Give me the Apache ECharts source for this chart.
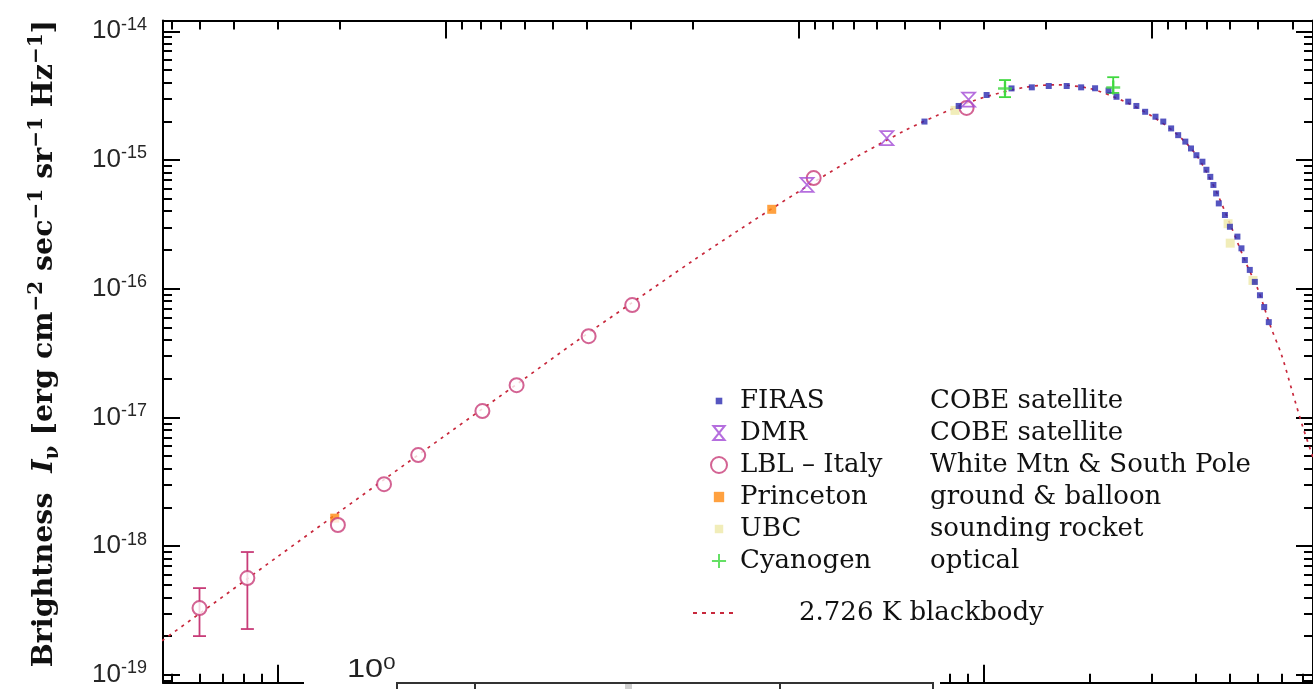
<!DOCTYPE html>
<html><head><meta charset="utf-8">
<script src="https://cdn.jsdelivr.net/npm/echarts@6/dist/echarts.min.js"></script>
<style>html,body{margin:0;padding:0;background:#fff}#c{width:1313px;height:689px}</style>
</head><body><div id="c"></div>
<script>
// ---------- data: frequency in GHz, brightness in erg cm^-2 s^-1 sr^-1 Hz^-1 ----------
const firasFreq = [68,85,102,120,137,153,172,189,207,226,238,257,271,287,307,323,340,356,373,387,401,417,428,439,448,456,464,483,499,524,538,550,568,587,607,624,643];
const firasB = [1.99e-15,2.63e-15,3.20e-15,3.60e-15,3.67e-15,3.76e-15,3.76e-15,3.67e-15,3.61e-15,3.47e-15,3.10e-15,2.84e-15,2.63e-15,2.37e-15,2.17e-15,1.99e-15,1.76e-15,1.56e-15,1.39e-15,1.23e-15,1.09e-15,9.7e-16,8.4e-16,7.4e-16,6.4e-16,5.5e-16,4.6e-16,3.74e-16,3.03e-16,2.54e-16,2.06e-16,1.67e-16,1.40e-16,1.13e-16,8.9e-17,7.2e-17,5.5e-17];

const dmrFreq = [31.6, 53.2, 90.7];
const dmrB = [6.4e-16, 1.48e-15, 2.95e-15];

const lblFreq = [0.60, 0.82, 1.48, 2.0, 2.5, 3.8, 4.75, 7.6, 10.1, 33, 89.5];
const lblB = [3.30e-19, 5.65e-19, 1.46e-18, 3.03e-18, 5.1e-18, 1.12e-17, 1.78e-17, 4.28e-17, 7.46e-17, 7.24e-16, 2.54e-15];
const lblErrFreq = [0.60, 0.82];
const lblErrLow = [2.00e-19, 2.27e-19];
const lblErrHigh = [4.72e-19, 9.0e-19];

const princetonFreq = [1.45, 25.1];
const princetonB = [1.65e-18, 4.14e-16];

const ubcFreq = [83, 493, 500, 580];
const ubcB = [2.43e-15, 3.2e-16, 2.26e-16, 1.16e-16];

const cyanFreq = [115, 233];
const cyanB = [3.59e-15, 3.66e-15];
const cyanLow = [3.08e-15, 3.32e-15];
const cyanHigh = [4.18e-15, 4.40e-15];

const bbFreq = [0.47,0.6,0.8,1,1.5,2,3,5,7,10,15,20,30,40,60,80,100,130,160,200,250,300,350,400,450,500,550,600,650,700,750,800,860];
const bbB = [1.84e-19,2.99e-19,5.31e-19,8.30e-19,1.86e-18,3.29e-18,7.33e-18,2.00e-17,3.89e-17,7.66e-17,1.65e-16,2.79e-16,5.71e-16,9.23e-16,1.70e-15,2.44e-15,3.06e-15,3.66e-15,3.84e-15,3.59e-15,2.86e-15,2.19e-15,1.62e-15,1.10e-15,6.2e-16,3.16e-16,1.66e-16,9.77e-17,5.13e-17,3.02e-17,1.58e-17,8.7e-18,4.8e-18];

// ---------- ticks / labels ----------
const yTickExponents = [-19, -18, -17, -16, -15, -14];
const minorMantissas = [2, 3, 4, 5, 6, 7, 8, 9];
const freqMajorTicks = [1, 10, 100];            // GHz (bottom)
const freqMinorTicks = [0.5,0.6,0.7,0.8,0.9, 2,3,4,5,6,7,8,9, 20,30,40,50,60,70,80,90, 200,300,400,500,600,700,800];
const wavelengthMajorTicks = [10, 1, 0.1];      // cm (top)
const wavelengthMinorTicks = [60,50,40,30,20, 9,8,7,6,5,4,3,2, 0.9,0.8,0.7,0.6,0.5,0.4,0.3,0.2, 0.09,0.08,0.07,0.06,0.05,0.04];

const legendNames = ['FIRAS', 'DMR', 'LBL – Italy', 'Princeton', 'UBC', 'Cyanogen'];
const legendNotes = ['COBE satellite', 'COBE satellite', 'White Mtn & South Pole', 'ground & balloon', 'sounding rocket', 'optical'];
const blackbodyName = '2.726 K blackbody';

// ---------- helpers ----------
const L = Math.log10;
const C_GHZ_CM = 29.98;
const X_MIN = -0.3253, X_MAX = 2.9335;   // log10(GHz)
const Y_MIN = -19.061, Y_MAX = -13.916;  // log10(brightness)

const pts = (f, b) => f.map((v, i) => [L(v), L(b[i])]);
const errs = (f, lo, hi) => f.map((v, i) => [L(v), L(lo[i]), L(hi[i])]);

const yMinor = [];
for (let n = -20; n <= -14; n++) for (const m of minorMantissas) {
  const v = n + L(m); if (v >= Y_MIN && v <= Y_MAX) yMinor.push(v);
}
const xMajor = freqMajorTicks.map(L);
const xMinor = freqMinorTicks.map(L).filter(v => v >= X_MIN && v <= X_MAX);
const topMajor = wavelengthMajorTicks.map(w => L(C_GHZ_CM / w));
const topMinor = wavelengthMinorTicks.map(w => L(C_GHZ_CM / w)).filter(v => v >= X_MIN && v <= X_MAX);

const BLACK = '#000';
function mkAxis(kind, position, ticks, len, showLine, extra) {
  const a = {
    type: 'value', position, gridIndex: 0,
    min: kind === 'x' ? X_MIN : Y_MIN, max: kind === 'x' ? X_MAX : Y_MAX,
    axisLine: { show: showLine, onZero: false, lineStyle: { color: BLACK, width: 2 } },
    axisTick: { show: true, inside: true, length: len, customValues: ticks, lineStyle: { color: BLACK, width: 2 } },
    axisLabel: { show: false }, splitLine: { show: false }, splitArea: { show: false }
  };
  return Object.assign(a, extra || {});
}

function errorBarRenderer(color, cap) {
  return function (params, api) {
    const x = api.value(0);
    const p1 = api.coord([x, api.value(1)]);
    const p2 = api.coord([x, api.value(2)]);
    const style = { stroke: color, lineWidth: 1.8, fill: null };
    return { type: 'group', children: [
      { type: 'line', shape: { x1: p1[0], y1: p1[1], x2: p2[0], y2: p2[1] }, style },
      { type: 'line', shape: { x1: p1[0] - cap, y1: p1[1], x2: p1[0] + cap, y2: p1[1] }, style },
      { type: 'line', shape: { x1: p2[0] - cap, y1: p2[1], x2: p2[0] + cap, y2: p2[1] }, style }
    ]};
  };
}

const COL = { firas: '#2a2ab0', dmr: '#a24ad6', lbl: '#c83c78', princeton: '#ff8a10', ubc: '#eee9a8', cyan: '#3fd83f', bb: '#c8283c' };
const HOURGLASS = 'path://M0,0L12,0L0,14L12,14Z';
const PLUS = 'path://M6,0L6,12M0,6L12,6';
const legendIcons = [
  'path://M0,0M17,17M5,5L12,5L12,12L5,12Z',
  'path://M0,0M17,17M2.5,1L14.5,1L2.5,16L14.5,16Z',
  'emptyCircle',
  'path://M0,0M17,17M3,3L14,3L14,14L3,14Z',
  'path://M0,0M17,17M4,4L13,4L13,13L4,13Z',
  'path://M0,0M17,17M8.5,1L8.5,16M1,8.5L16,8.5'
];
const DASH_ICON = 'path://M0,0M42,14M0,6L4,6L4,8L0,8Z M9,6L13,6L13,8L9,8Z M18,6L22,6L22,8L18,8Z M27,6L31,6L31,8L27,8Z M36,6L40,6L40,8L36,8Z';

const SERIF = 'DejaVu Serif';
const SANS = 'Liberation Sans';

const option = {
  animation: false,
  backgroundColor: '#fff',
  grid: { left: 163, top: 20.5, width: 1152, height: 662.2, containLabel: false },
  xAxis: [
    mkAxis('x', 'bottom', xMajor, 18, true),
    mkAxis('x', 'bottom', xMinor, 9, false),
    mkAxis('x', 'top', topMajor, 18, true),
    mkAxis('x', 'top', topMinor, 9, false)
  ],
  yAxis: [
    mkAxis('y', 'left', yTickExponents, 17, true, {
      axisLabel: {
        show: true, customValues: yTickExponents, margin: 16,
        formatter: v => '{b|10}{s|' + Math.round(v) + '}',
        rich: {
          b: { fontFamily: SANS, fontSize: 26, color: '#262626', lineHeight: 31 },
          s: { fontFamily: SANS, fontSize: 18, color: '#262626', verticalAlign: 'top', lineHeight: 17 }
        }
      },
      name: '{t|Brightness  }{i|I}{sub|ν}{t| [erg cm}{sup|−2}{t| sec}{sup|−1}{t| sr}{sup|−1}{t| Hz}{sup|−1}{t|]}',
      nameLocation: 'middle', nameRotate: 90, nameGap: 100,
      nameTextStyle: {
        padding: [0, 0, 0, 16],
        rich: {
          t: { fontFamily: SERIF, fontWeight: 'bold', fontSize: 28.5, color: '#111', lineHeight: 36 },
          i: { fontFamily: SERIF, fontWeight: 'bold', fontStyle: 'italic', fontSize: 28.5, color: '#111', lineHeight: 36 },
          sub: { fontFamily: SERIF, fontWeight: 'bold', fontSize: 20, color: '#111', verticalAlign: 'bottom', lineHeight: 20 },
          sup: { fontFamily: SERIF, fontWeight: 'bold', fontSize: 20, color: '#111', verticalAlign: 'top', lineHeight: 20 }
        }
      }
    }),
    mkAxis('y', 'left', yMinor, 9, false),
    mkAxis('y', 'right', yTickExponents, 17, true),
    mkAxis('y', 'right', yMinor, 9, false)
  ],
  legend: [
    {
      data: legendNames.map((n, i) => ({ name: n, icon: legendIcons[i] })),
      orient: 'vertical', left: 705, top: 383, itemWidth: 16, itemHeight: 16, itemGap: 6,
      selectedMode: false,
      formatter: name => '{n|' + name + '}{d|' + legendNotes[legendNames.indexOf(name)] + '}',
      textStyle: {
        fontFamily: SERIF, fontSize: 26, color: '#111',
        rich: {
          n: { fontFamily: SERIF, fontSize: 26, color: '#111', width: 190, padding: [0, 0, 0, 8], lineHeight: 24 },
          d: { fontFamily: SERIF, fontSize: 26, color: '#111', lineHeight: 24 }
        }
      }
    },
    {
      data: [{ name: blackbodyName, icon: DASH_ICON }],
      orient: 'vertical', left: 688, top: 595, itemWidth: 42, itemHeight: 14,
      selectedMode: false,
      formatter: name => '{p|' + name + '}',
      textStyle: {
        fontFamily: SERIF, fontSize: 26, color: '#111',
        rich: { p: { fontFamily: SERIF, fontSize: 26, color: '#111', padding: [0, 0, 0, 59], lineHeight: 24 } }
      }
    }
  ],
  series: [
    {
      name: blackbodyName, type: 'line', data: pts(bbFreq, bbB), smooth: 0.3,
      showSymbol: false, symbol: 'none', z: 1,
      lineStyle: { color: COL.bb, width: 1.7, type: [3, 5] }, itemStyle: { color: COL.bb }
    },
    {
      name: 'UBC', type: 'scatter', data: pts(ubcFreq, ubcB), symbol: 'rect', symbolSize: 9, z: 2,
      itemStyle: { color: COL.ubc }
    },
    {
      name: 'Princeton', type: 'scatter', data: pts(princetonFreq, princetonB), symbol: 'rect', symbolSize: 9, z: 3,
      itemStyle: { color: COL.princeton }
    },
    {
      name: 'LBL errors', type: 'custom', data: errs(lblErrFreq, lblErrLow, lblErrHigh), z: 3,
      renderItem: errorBarRenderer(COL.lbl, 6.5)
    },
    {
      name: 'LBL – Italy', type: 'scatter', data: pts(lblFreq, lblB), symbol: 'emptyCircle', symbolSize: 14, z: 4,
      itemStyle: { color: COL.lbl, borderColor: COL.lbl, borderWidth: 1.6 }
    },
    {
      name: 'DMR', type: 'scatter', data: pts(dmrFreq, dmrB), symbol: HOURGLASS, symbolSize: [13, 14], z: 5,
      itemStyle: { color: 'rgba(0,0,0,0)', borderColor: COL.dmr, borderWidth: 1.7 }
    },
    {
      name: 'FIRAS', type: 'scatter', data: pts(firasFreq, firasB), symbol: 'rect', symbolSize: 6, z: 6,
      itemStyle: { color: COL.firas }
    },
    {
      name: 'Cyanogen errors', type: 'custom', data: errs(cyanFreq, cyanLow, cyanHigh), z: 6,
      renderItem: errorBarRenderer(COL.cyan, 6)
    },
    {
      name: 'Cyanogen', type: 'scatter', data: pts(cyanFreq, cyanB), symbol: PLUS, symbolSize: 14, z: 7,
      itemStyle: { color: 'rgba(0,0,0,0)', borderColor: COL.cyan, borderWidth: 2.4 }
    }
  ],
  graphic: [
    { type: 'rect', z: 100, shape: { x: 304, y: 656, width: 636, height: 33 }, style: { fill: '#fff' } },
    { type: 'polyline', z: 101, shape: { points: [[397, 690], [397, 683], [933, 683], [933, 690]] }, style: { stroke: '#333', lineWidth: 2, fill: null } },
    { type: 'line', z: 101, shape: { x1: 475, y1: 683, x2: 475, y2: 690 }, style: { stroke: '#333', lineWidth: 2 } },
    { type: 'line', z: 101, shape: { x1: 780, y1: 683, x2: 780, y2: 690 }, style: { stroke: '#333', lineWidth: 2 } },
    { type: 'rect', z: 101, shape: { x: 625, y: 684, width: 7, height: 5 }, style: { fill: '#cfcfcf' } },
    { type: 'text', z: 101, x: 347, y: 656, scaleX: 1.3,
      style: { text: '{b|10}{s|0}', rich: {
        b: { fontFamily: SANS, fontSize: 25, fill: '#222', lineHeight: 28 },
        s: { fontFamily: SANS, fontSize: 17, fill: '#222', verticalAlign: 'top', lineHeight: 16 }
      } } }
  ]
};

const chart = echarts.init(document.getElementById('c'), null, { renderer: 'canvas' });
chart.setOption(option);
</script>
</body></html>
